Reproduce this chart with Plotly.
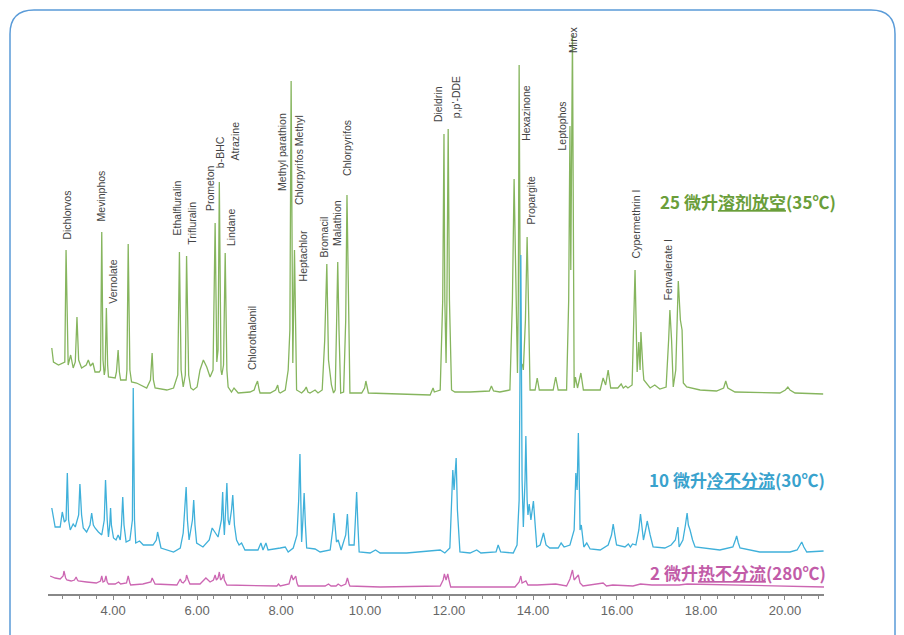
import plotly.graph_objects as go

# ---------------- data (retention time in minutes, detector response in arbitrary units) ----------------
green_time = [2.54, 2.58, 2.70, 2.78, 2.85, 2.88, 2.92, 2.93, 2.99, 3.05, 3.10, 3.14, 3.18, 3.25, 3.36, 3.41, 3.46, 3.52,
              3.57, 3.67, 3.70, 3.73, 3.76, 3.79, 3.81, 3.84, 3.87, 3.89, 4.05, 4.08, 4.12, 4.15, 4.18, 4.31, 4.33, 4.36,
              4.40, 4.44, 4.56, 4.80, 4.89, 4.93, 4.96, 5.00, 5.28, 5.44, 5.54, 5.58, 5.62, 5.67, 5.72, 5.75, 5.80, 5.85,
              5.91, 6.00, 6.07, 6.15, 6.23, 6.31, 6.38, 6.43, 6.47, 6.50, 6.53, 6.57, 6.59, 6.63, 6.67, 6.71, 6.74, 6.82,
              6.88, 6.98, 7.26, 7.36, 7.39, 7.44, 7.48, 7.50, 7.74, 7.87, 7.92, 7.95, 7.98, 8.10, 8.17, 8.21, 8.24, 8.26,
              8.28, 8.32, 8.35, 8.37, 8.49, 8.56, 8.60, 8.64, 8.69, 8.81, 8.88, 8.98, 9.04, 9.09, 9.13, 9.17, 9.20, 9.25,
              9.29, 9.32, 9.35, 9.38, 9.42, 9.49, 9.54, 9.57, 9.61, 9.64, 9.92, 9.99, 10.02, 10.06, 10.08, 11.55, 11.59,
              11.62, 11.65, 11.79, 11.85, 11.88, 11.90, 11.93, 11.95, 11.98, 12.01, 12.06, 12.14, 12.50, 12.96, 13.01,
              13.06, 13.21, 13.45, 13.51, 13.55, 13.60, 13.63, 13.65, 13.67, 13.69, 13.71, 13.75, 13.77, 13.82, 13.86,
              13.90, 13.93, 14.05, 14.10, 14.15, 14.48, 14.54, 14.60, 14.80, 14.85, 14.88, 14.90, 14.94, 14.96, 14.98,
              15.01, 15.06, 15.14, 15.20, 15.60, 15.67, 15.73, 15.79, 15.85, 16.02, 16.10, 16.15, 16.21, 16.26, 16.36,
              16.43, 16.48, 16.52, 16.55, 16.57, 16.62, 16.64, 16.79, 16.90, 17.02, 17.17, 17.23, 17.26, 17.30, 17.34,
              17.40, 17.46, 17.51, 17.55, 17.58, 17.66, 17.98, 18.37, 18.54, 18.59, 18.64, 18.81, 19.88, 20.01, 20.07,
              20.12, 20.24, 20.91]
green_signal = [47, 33, 30, 32, 33, 145, 33, 30, 40, 27, 33, 78, 35, 27, 30, 35, 29, 32,
                23, 23, 25, 163, 35, 20, 25, 87, 30, 18, 17, 23, 45, 23, 15, 15, 25, 151,
                25, 13, 12, 7, 15, 42, 15, 7, 5, 7, 20, 143, 25, 8, 20, 139, 20, 7,
                5, 8, 25, 35, 28, 18, 25, 172, 33, 45, 213, 25, 20, 30, 142, 25, 8, 3,
                7, 2, 3, 5, 9, 14, 5, 2, 2, 5, 10, 3, 2, 5, 25, 65, 314, 95,
                32, 145, 35, 5, 2, 5, 8, 3, 2, 5, 2, 5, 55, 131, 35, 22, 10, 2,
                5, 65, 133, 65, 2, 3, 75, 200, 75, 2, 2, 7, 14, 7, 2, 0, 5,
                7, 3, 5, 95, 261, 95, 32, 95, 266, 95, 5, 3, 3, 4, 9,
                4, 3, 5, 95, 216, 95, 22, 95, 330, 145, 32, 30, 25, 75, 158,
                75, 5, 5, 17, 5, 5, 18, 5, 5, 95, 269, 125, 360, 95, 7,
                18, 7, 22, 5, 5, 17, 10, 25, 7, 7, 11, 7, 9, 7, 10,
                125, 23, 53, 25, 63, 25, 15, 7, 10, 6, 8, 55, 85, 55, 8,
                25, 114, 75, 65, 12, 8, 5, 4, 7, 14, 7, 3, 2, 5, 8,
                5, 2, 1]

blue_time = [2.54, 2.57, 2.62, 2.74, 2.76, 2.79, 2.84, 2.88, 2.91, 2.94, 2.98, 3.05, 3.10, 3.18, 3.21, 3.25, 3.29, 3.37,
             3.45, 3.49, 3.53, 3.57, 3.65, 3.73, 3.79, 3.82, 3.86, 3.89, 3.92, 3.94, 3.96, 4.01, 4.07, 4.12, 4.17, 4.20,
             4.23, 4.26, 4.31, 4.40, 4.46, 4.48, 4.51, 4.54, 4.63, 4.72, 4.95, 5.03, 5.06, 5.10, 5.14, 5.44, 5.60, 5.67,
             5.71, 5.74, 5.77, 5.81, 5.89, 5.92, 5.95, 5.99, 6.14, 6.29, 6.36, 6.45, 6.50, 6.58, 6.61, 6.63, 6.65, 6.68,
             6.71, 6.74, 6.77, 6.82, 6.85, 6.89, 6.94, 7.00, 7.06, 7.14, 7.45, 7.52, 7.57, 7.64, 7.69, 7.98, 8.10, 8.17,
             8.29, 8.38, 8.42, 8.45, 8.49, 8.52, 8.55, 8.58, 8.61, 8.81, 8.93, 9.17, 9.23, 9.26, 9.30, 9.32, 9.36, 9.43,
             9.54, 9.58, 9.62, 9.74, 9.77, 9.80, 9.83, 9.86, 10.12, 10.25, 10.36, 10.99, 11.79, 11.90, 12.02, 12.06,
             12.09, 12.12, 12.17, 12.20, 12.26, 12.50, 12.66, 12.76, 13.12, 13.17, 13.23, 13.53, 13.62, 13.67, 13.71,
             13.74, 13.77, 13.81, 13.83, 13.86, 13.88, 13.91, 13.95, 14.01, 14.05, 14.09, 14.17, 14.25, 14.31, 14.40,
             14.60, 14.67, 14.74, 14.88, 14.98, 15.02, 15.05, 15.08, 15.11, 15.12, 15.15, 15.21, 15.28, 15.36, 15.60,
             15.79, 15.87, 15.91, 15.95, 15.99, 16.19, 16.27, 16.32, 16.37, 16.45, 16.52, 16.56, 16.60, 16.63, 16.68,
             16.72, 16.79, 16.86, 17.14, 17.29, 17.39, 17.45, 17.48, 17.57, 17.63, 17.67, 17.70, 17.74, 17.80, 17.86,
             18.45, 18.76, 18.82, 18.85, 18.89, 18.93, 19.40, 20.12, 20.29, 20.37, 20.40, 20.45, 20.52, 20.92]
blue_signal = [44, 37, 25, 25, 32, 40, 30, 32, 79, 32, 22, 28, 25, 37, 68, 37, 24, 20,
               27, 39, 27, 24, 20, 17, 32, 72, 32, 15, 27, 44, 27, 14, 12, 17, 12, 27,
               55, 27, 10, 12, 32, 164, 32, 9, 11, 7, 7, 12, 20, 12, 4, 0, 4, 19,
               42, 65, 32, 12, 32, 52, 27, 9, 5, 12, 24, 19, 15, 32, 60, 32, 17, 42,
               69, 32, 27, 42, 57, 27, 12, 7, 9, 2, 2, 9, 2, 9, 2, 4, 5, 0,
               4, 17, 52, 98, 10, 32, 59, 27, 4, 3, 0, 2, 22, 39, 17, 10, 12, 2,
               17, 38, 7, 7, 32, 60, 27, 0, -1, 2, -1, -1, 2, -1, 4, 52,
               82, 62, 94, 42, 0, -1, 2, -1, 0, 7, 0, -1, 7, 52, 297,
               72, 25, 72, 116, 52, 37, 48, 32, 51, 22, 5, 7, 19, 7, 4,
               4, 9, 5, 7, 22, 79, 62, 119, 52, 22, 27, 5, 9, 3, 2,
               7, 17, 28, 17, 7, 5, 8, 5, 8, 7, 22, 38, 22, 12, 22,
               31, 17, 5, 4, 7, 12, 25, 5, 12, 27, 39, 27, 22, 12, 5,
               2, 5, 12, 16, 9, 4, 0, 0, 2, 9, 10, 5, 0, 1]

pink_time = [2.50, 2.62, 2.74, 2.81, 2.83, 2.87, 2.90, 3.00, 3.08, 3.12, 3.15, 3.17, 3.37, 3.60, 3.70, 3.73, 3.76, 3.80,
             3.83, 3.86, 3.89, 4.05, 4.13, 4.18, 4.32, 4.36, 4.40, 4.42, 4.71, 4.90, 4.93, 4.98, 5.00, 5.52, 5.56, 5.60,
             5.63, 5.67, 5.73, 5.75, 5.79, 5.83, 6.07, 6.17, 6.21, 6.31, 6.39, 6.43, 6.46, 6.50, 6.53, 6.56, 6.60, 6.63,
             6.65, 6.71, 7.90, 7.94, 7.98, 8.19, 8.25, 8.29, 8.35, 8.38, 8.41, 9.05, 9.13, 9.19, 9.31, 9.36, 9.43, 9.54,
             9.58, 9.62, 9.64, 10.36, 11.79, 11.86, 11.89, 11.93, 11.97, 12.00, 12.04, 12.74, 13.57, 13.67, 13.71, 13.74,
             13.83, 13.88, 14.10, 14.54, 14.80, 14.88, 14.94, 14.98, 15.02, 15.08, 15.12, 15.19, 15.67, 15.75, 15.90,
             16.38, 16.56, 16.83, 17.48, 17.67, 20.93]
pink_signal = [11, 9, 8, 11, 16, 9, 7, 6, 7, 10, 7, 6, 5, 4, 6, 11, 5, 6,
               11, 5, 3, 3, 5, 3, 4, 11, 4, 2, 3, 5, 9, 5, 3, 2, 5, 8,
               5, 4, 7, 12, 7, 3, 3, 8, 9, 5, 7, 12, 7, 9, 15, 7, 9, 13,
               7, 2, 1, 3, 1, 3, 12, 7, 11, 4, 1, 1, 3, 1, 1, 3, 1, 3,
               9, 3, 1, 0, 1, 7, 13, 7, 13, 7, 0, 0, 0, 5, 11, 4,
               6, 2, 2, 3, 1, 8, 17, 7, 9, 12, 4, 1, 4, 1, 2,
               1, 3, 2, 2, 3, 0]

compound_names = ["Dichlorvos", "Mevinphos", "Vernolate", "Ethalfluralin", "Trifluralin", "Prometon", "b-BHC",
                  "Atrazine", "Lindane", "Chlorothalonil", "Methyl parathion", "Chlorpyrifos Methyl", "Heptachlor",
                  "Bromacil", "Malathion", "Chlorpyrifos", "Dieldrin", "p,p'-DDE", "Hexazinone", "Propargite",
                  "Leptophos", "Mirex", "Cypermethrin I", "Fenvalerate I"]

series_names = ["25 微升<u>溶剂放空</u>(35℃)", "10 微升<u>冷不分流</u>(30℃)", "2 微升<u>热不分流</u>(280℃)"]
tick_values = [4, 6, 8, 10, 12, 14, 16, 18, 20]

# ---------------- layout / style ----------------
green_offset, blue_offset, pink_offset = 199, 42, 7
green_line, blue_line, pink_line = "#86b55e", "#3fb0da", "#cc66b2"
green_text, blue_text, pink_text = "#6a9e3a", "#39a2cd", "#c25ca8"

# label positions (time, bottom height) for each compound label
label_pos = [(2.88, 352), (3.71, 371), (3.98, 288), (5.52, 357), (5.86, 347), (6.31, 381), (6.55, 424),
             (6.88, 431), (6.81, 346), (7.31, 222), (8.02, 401), (8.43, 387), (8.52, 311),
             (9.00, 334), (9.33, 346), (9.57, 416), (11.74, 470), (12.17, 474), (13.83, 451), (13.93, 367),
             (14.69, 442), (14.95, 539), (16.45, 334), (17.21, 292)]
series_label_pos = [(16.98, 393), (16.71, 115), (16.74, 22)]

fig = go.Figure()
for t, s, off, col in [(green_time, green_signal, green_offset, green_line),
                       (blue_time, blue_signal, blue_offset, blue_line),
                       (pink_time, pink_signal, pink_offset, pink_line)]:
    fig.add_trace(go.Scatter(x=t, y=[v + off for v in s], mode="lines",
                             line=dict(color=col, width=1.3), hoverinfo="skip", showlegend=False))

annotations = []
for name, (x, y) in zip(compound_names, label_pos):
    annotations.append(dict(x=x, y=y, xref="x", yref="y", text=name, showarrow=False, textangle=-90,
                            xanchor="center", yanchor="bottom",
                            font=dict(family="Liberation Sans, Arial", size=10.5, color="#444444")))
for name, (x, y), col in zip(series_names, series_label_pos, [green_text, blue_text, pink_text]):
    annotations.append(dict(x=x, y=y, xref="x", yref="y", text=name, showarrow=False,
                            xanchor="left", yanchor="middle",
                            font=dict(family="Noto Sans CJK SC", size=17, color=col, weight="bold")))

# the page adds an 8 px body margin, so the figure is drawn 8 px smaller and offset
PAGE = 8
FW, FH = 904 - PAGE, 635 - PAGE
L, R, T, B = 48 - PAGE, 80, 20 - PAGE, 41
W, H = FW - L - R, FH - T - B
def px(x):
    return (x - PAGE - L) / W
def py(y):
    return (FH - B - (y - PAGE)) / H
x0, x1, y0, y1, rad = 10, 895, 10, 660, 24
path = (f"M {px(x0)},{py(y1)} L {px(x0)},{py(y0 + rad)} Q {px(x0)},{py(y0)} {px(x0 + rad)},{py(y0)} "
        f"L {px(x1 - rad)},{py(y0)} Q {px(x1)},{py(y0)} {px(x1)},{py(y0 + rad)} L {px(x1)},{py(y1)}")

fig.update_layout(
    width=FW, height=FH,
    margin=dict(l=L, r=R, t=T, b=B),
    paper_bgcolor="white", plot_bgcolor="white",
    annotations=annotations,
    shapes=[dict(type="path", path=path, xref="paper", yref="paper",
                 line=dict(color="#5a9bd8", width=1.5), layer="below")],
    xaxis=dict(range=[2.45, 20.93], showgrid=False, zeroline=False, showline=True, linecolor="#888888",
               linewidth=1.5, ticks="outside", ticklen=4, tickcolor="#888888", tickvals=tick_values,
               tickformat=".2f", tickfont=dict(family="Liberation Sans, Arial", size=13, color="#666666"),
               minor=dict(dtick=0.4, tick0=0, ticks="outside", ticklen=3, tickcolor="#888888")),
    yaxis=dict(range=[0, 574], visible=False),
)

fig.write_html("out.html")
